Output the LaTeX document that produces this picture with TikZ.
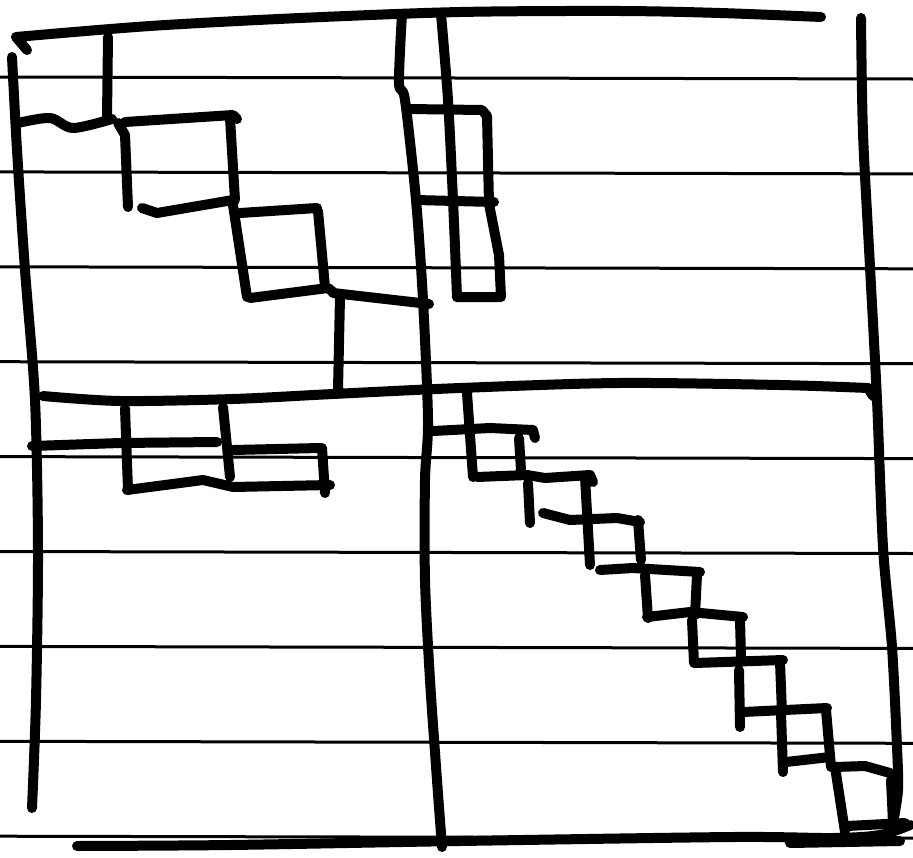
\documentclass[tikz,border=0pt]{standalone}
\usepackage{tikz}

\begin{document}
\begin{tikzpicture}[x=1pt,y=-1pt,
    pen/.style={line width=10pt,line cap=round,line join=round},
    ruling/.style={line width=3pt}]
  \def\gap{94.9}
  \fill[white] (0,0) rectangle (913,857);
  \useasboundingbox (0,0) rectangle (913,857);
  % ruled paper
  \foreach \k in {0,...,8} {
    \draw[ruling] (0,77+\gap*\k) -- (913,79+\gap*\k);
  }

  % outer frame
  \draw[pen] (27,50) -- (16,37)
    plot[smooth,tension=0.5] coordinates {(16,37) (150,26) (300,18) (460,12) (620,11) (720,13) (821,17)};
  \draw[pen] plot[smooth,tension=0.5] coordinates
    {(12,57) (17,150) (25,270) (35,400) (38,550) (36,700) (32,808)};
  \draw[pen] plot[smooth,tension=0.5] coordinates
    {(861,18) (863,133) (870,267) (877,400) (883,547) (892,647) (897,747) (898,790) (893,823)};
  \draw[pen] plot[smooth,tension=0.5] coordinates
    {(77,846) (230,845) (460,841) (733,837) (833,838) (880,835) (910,825)};
  \draw[pen] (790,843) -- (900,841);

  % block dividers
  \draw[pen] plot[smooth,tension=0.5] coordinates
    {(402,14) (399,83) (405,100) (416,200) (423,300) (428,420) (425,480) (425,580) (430,680) (437,780) (442,847)};
  \draw[pen] plot[smooth,tension=0.5] coordinates
    {(43,396) (120,401) (233,399) (333,394) (460,388) (618,383) (780,385) (868,388)};
  \draw[pen] (868,388) -- (873,396);

  % top left block
  \draw[pen] (108,37) -- (107,117);
  \draw[pen] plot[smooth,tension=0.5] coordinates {(18,123) (50,118) (73,128) (112,119)};
  \draw[pen] (118,123) -- (125,135) -- (128,207);
  \draw[pen] (125,122) -- (233,115) -- (237,119);
  \draw[pen] (230,118) -- (235,200);
  \draw[pen] (142,208) -- (157,213) -- (233,200);
  \draw[pen] (240,213) -- (317,208);
  \draw[pen] (233,205) -- (247,297);
  \draw[pen] (318,211) -- (325,287);
  \draw[pen] (250,298) -- (328,288) -- (333,292);
  \draw[pen] (333,293) -- (429,304);
  \draw[pen] (340,297) -- (338,390);

  % top right block
  \draw[pen] plot[smooth,tension=0.5] coordinates
    {(441,14) (448,100) (453,200) (457,297)};
  \draw[pen] (409,109) -- (482,110) -- (487,116) -- (489,204) -- (499,255) -- (501,297) -- (457,297);
  \draw[pen] (416,200) -- (494,202);

  % bottom left block
  \draw[pen] (32,446) -- (120,443) -- (217,442);
  \draw[pen] (125,408) -- (128,490);
  \draw[pen] (223,407) -- (230,477);
  \draw[pen] (233,450) -- (320,448);
  \draw[pen] (322,448) -- (325,493);
  \draw[pen] (127,490) -- (203,480) -- (233,487) -- (330,485);

  % bottom right block
  \draw[pen] (467,393) -- (473,477);
  \draw[pen] (433,431) -- (490,428) -- (533,430) -- (535,438);
  \draw[pen] (519,438) -- (521,470);
  \draw[pen] (477,477) -- (527,475) -- (545,478) -- (590,475) -- (593,482);
  \draw[pen] (528,483) -- (530,523);
  \draw[pen] (543,513) -- (570,520) -- (617,518) -- (640,522);
  \draw[pen] (585,477) -- (590,565);
  \draw[pen] (638,520) -- (641,560);
  \draw[pen] (600,570) -- (633,568) -- (700,572);
  \draw[pen] (645,575) -- (648,618);
  \draw[pen] (697,575) -- (695,615);
  \draw[pen] (647,617) -- (690,612) -- (743,617);
  \draw[pen] (692,620) -- (694,663);
  \draw[pen] (740,620) -- (741,657);
  \draw[pen] (695,663) -- (783,660);
  \draw[pen] (739,670) -- (740,727);
  \draw[pen] (780,662) -- (782,713);
  \draw[pen] (743,712) -- (827,708);
  \draw[pen] (781,713) -- (783,772);
  \draw[pen] (826,710) -- (831,767);
  \draw[pen] (786,762) -- (830,757);
  \draw[pen] (835,767) -- (845,832);
  \draw[pen] (835,767) -- (865,766) -- (890,773) -- (897,783);
  \draw[pen] (891,780) -- (893,823);
  \draw[pen] (847,826) -- (905,823);
\end{tikzpicture}
\end{document}
